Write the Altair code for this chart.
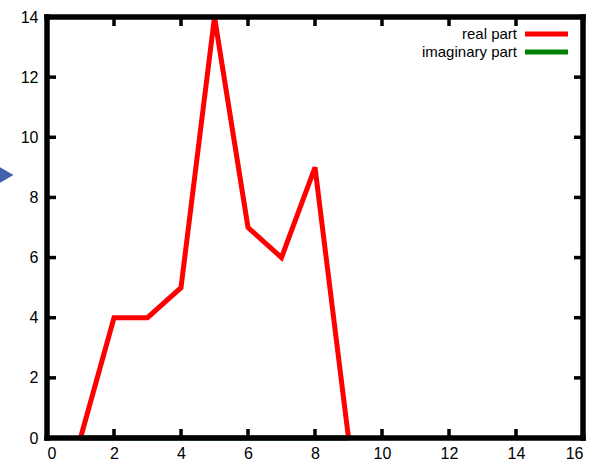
import altair as alt
import pandas as pd

# Sample index and the two components of the signal
n_values = [1, 2, 3, 4, 5, 6, 7, 8, 9]
real_part = [0, 4, 4, 5, 14, 7, 6, 9, 0]
imag_part = [0, 0, 0, 0, 0, 0, 0, 0, 0]

x_ticks = [0, 2, 4, 6, 8, 10, 12, 14, 16]
y_ticks = [0, 2, 4, 6, 8, 10, 12, 14]
series_names = ["real part", "imaginary part"]
series_colors = ["#ff0000", "#008000"]

W, H = 536, 421
FONT = "Liberation Sans"

rows = []
for n, im in zip(n_values, imag_part):
    rows.append({"n": n, "value": im, "series": series_names[1]})
for n, re in zip(n_values, real_part):
    rows.append({"n": n, "value": re, "series": series_names[0]})
df = pd.DataFrame(rows)

xs = alt.Scale(domain=[0, 16], nice=False, zero=False)
ys = alt.Scale(domain=[0, 14], nice=False, zero=False)
color_scale = alt.Scale(domain=series_names, range=series_colors)

axis_style = dict(ticks=False, domain=False, grid=False, labelFont=FONT,
                  labelFontSize=16, labelColor="black", title=None)
x_axis = alt.Axis(values=x_ticks, labelPadding=7, **axis_style)
y_axis = alt.Axis(values=y_ticks, labelPadding=9, **axis_style)

lines = alt.Chart(df).mark_line(strokeWidth=5, clip=False).encode(
    x=alt.X("n:Q", scale=xs, axis=x_axis),
    y=alt.Y("value:Q", scale=ys, axis=y_axis),
    color=alt.Color("series:N", scale=color_scale, legend=None),
    detail="series:N",
)

# Inward tick marks mirrored on all four sides
xt = pd.DataFrame({"t": x_ticks[1:-1]})
yt = pd.DataFrame({"t": y_ticks[1:-1]})
tick_style = dict(color="black", strokeWidth=3.5)
bottom_ticks = alt.Chart(xt).mark_rule(**tick_style).encode(
    x=alt.X("t:Q", scale=xs, axis=x_axis), y=alt.value(H), y2=alt.value(H - 9))
top_ticks = alt.Chart(xt).mark_rule(**tick_style).encode(
    x=alt.X("t:Q", scale=xs, axis=x_axis), y=alt.value(0), y2=alt.value(9))
left_ticks = alt.Chart(yt).mark_rule(**tick_style).encode(
    y=alt.Y("t:Q", scale=ys, axis=y_axis), x=alt.value(0), x2=alt.value(9))
right_ticks = alt.Chart(yt).mark_rule(**tick_style).encode(
    y=alt.Y("t:Q", scale=ys, axis=y_axis), x=alt.value(W), x2=alt.value(W - 9))

# Heavy border drawn over the data so the zero line sits beneath it
one = pd.DataFrame({"a": [0]})
frame_style = dict(color="black", strokeWidth=5.5, strokeCap="square")
frame = [
    alt.Chart(one).mark_rule(**frame_style).encode(
        x=alt.value(0), x2=alt.value(W), y=alt.value(H)),
    alt.Chart(one).mark_rule(**frame_style).encode(
        x=alt.value(0), x2=alt.value(W), y=alt.value(0)),
    alt.Chart(one).mark_rule(**frame_style).encode(
        x=alt.value(0), y=alt.value(0), y2=alt.value(H)),
    alt.Chart(one).mark_rule(**frame_style).encode(
        x=alt.value(W), y=alt.value(0), y2=alt.value(H)),
]

# Key in the upper right: label text followed by a line sample
key_marks = []
for name, col, ypos in zip(series_names, series_colors, [17, 35]):
    key_marks.append(
        alt.Chart(one).mark_text(
            align="right", baseline="middle", font=FONT, fontSize=15,
            color="black", text=name
        ).encode(x=alt.value(470), y=alt.value(ypos))
    )
    key_marks.append(
        alt.Chart(one).mark_rule(strokeWidth=5, color=col).encode(
            x=alt.value(478), x2=alt.value(521), y=alt.value(ypos))
    )

# Small pointer arrow at the left edge
arrow = alt.Chart(one).mark_point(
    shape="triangle-right", filled=True, color="#3f64ad", size=300, opacity=1
).encode(x=alt.value(-41), y=alt.value(158))

chart = alt.layer(
    lines, *frame, bottom_ticks, top_ticks, left_ticks, right_ticks,
    *key_marks, arrow
).properties(
    width=W, height=H,
    background="white",
    autosize=alt.AutoSizeParams(type="none"),
    padding={"left": 47, "top": 17, "right": 17, "bottom": 24},
).configure_view(
    stroke=None
).configure_axis(
    ticks=False, domain=False, grid=False,
    labelFont=FONT, labelFontSize=16, labelColor="black",
)

chart.save("out.html", embed_options={"renderer": "svg", "actions": False})
